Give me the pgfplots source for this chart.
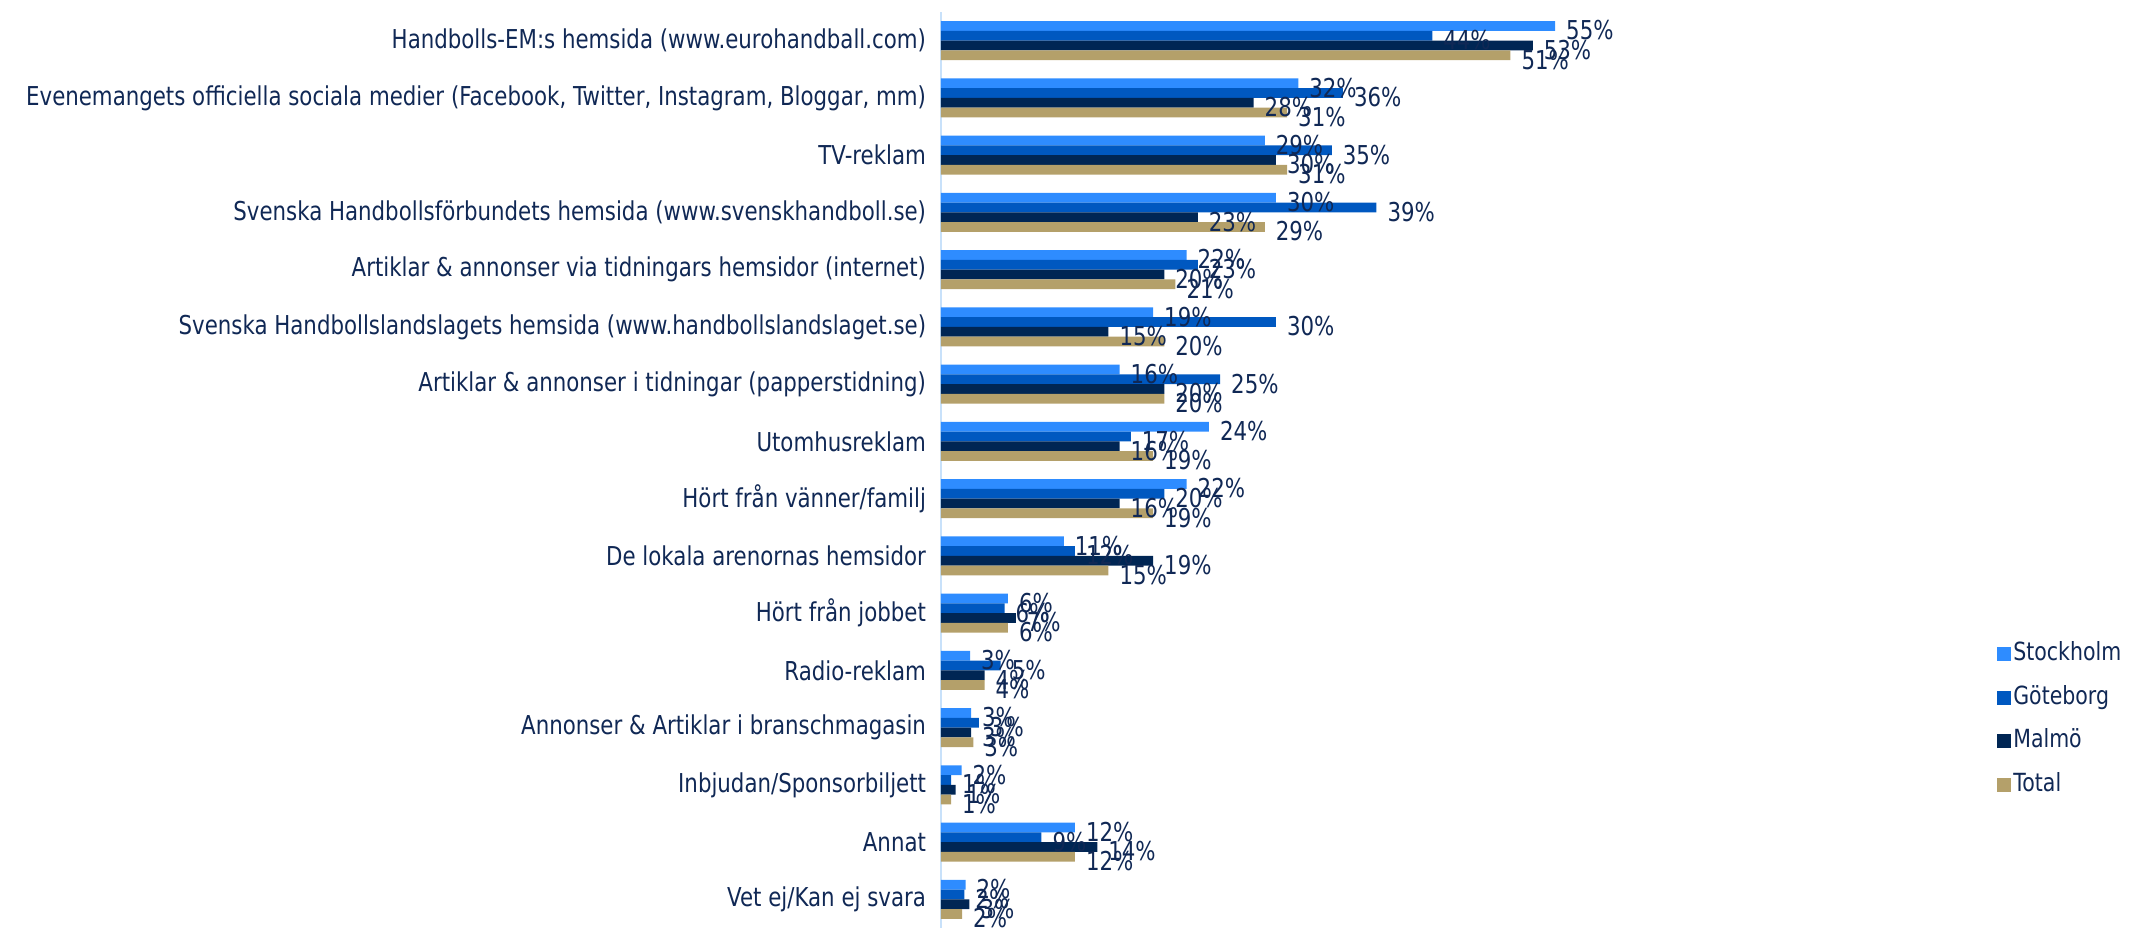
\documentclass[border=0pt]{standalone}
\usepackage{fontspec}
\setmainfont{DejaVu Sans}[FakeStretch=0.82]
\usepackage{pgfplots}
\usepackage{pgfplotstable}
\pgfplotsset{compat=1.18}
\definecolor{cSto}{RGB}{46,140,255}
\definecolor{cGbg}{RGB}{0,88,192}
\definecolor{cMal}{RGB}{0,38,84}
\definecolor{cTot}{RGB}{180,160,106}
\definecolor{cText}{RGB}{16,40,85}
\definecolor{cAxis}{RGB}{200,225,250}

\pgfplotstableread{
idx sto gbg mal tot
0 55 44 53 51
1 32 36 28 31
2 29 35 30 31
3 30 39 23 29
4 22 23 20 21
5 19 30 15 20
6 16 25 20 20
7 24 17 16 19
8 22 20 16 19
9 11 12 19 15
10 6.0 5.7 6.7 6.0
11 2.6 5.35 3.9 3.9
12 2.7 3.4 2.7 2.9
13 1.85 0.9 1.3 0.9
14 12 9 14 12
15 2.2 2.1 2.55 1.9
}\datatab

\begin{document}
\begin{tikzpicture}
\begin{axis}[
  at={(0,0)}, anchor=south west,
  scale only axis, width=335bp, height=458bp,
  xbar=0pt, bar width=0.17,
  xmin=0, xmax=60,
  ymin=-0.5, ymax=15.5, y dir=reverse,
  ytick={0,...,15},
  yticklabels={
    {Handbolls-EM:s hemsida (www.eurohandball.com)},
    {Evenemangets officiella sociala medier (Facebook, Twitter, Instagram, Bloggar, mm)\ },
    {TV-reklam\ },
    {Svenska Handbollsförbundets hemsida (www.svenskhandboll.se)},
    {Artiklar \& annonser via tidningars hemsidor (internet)\ },
    {Svenska Handbollslandslagets hemsida (www.handbollslandslaget.se)},
    {Artiklar \& annonser i tidningar (papperstidning)},
    {Utomhusreklam\ },
    {Hört från vänner/familj\ },
    {De lokala arenornas hemsidor},
    {Hört från jobbet\ },
    {Radio-reklam},
    {Annonser \& Artiklar i branschmagasin\ },
    {Inbjudan/Sponsorbiljett},
    {Annat\ },
    {Vet ej/Kan ej svara}
  },
  axis x line=none, axis y line*=left,
  y axis line style={-, draw=cAxis, line width=1pt},
  major tick length=0pt,
  tick label style={font=\fontsize{13bp}{15bp}\selectfont, text=cText},
  yticklabel style={xshift=-4bp},
  /pgf/number format/assume math mode=true,
  point meta=x,
  nodes near coords={\pgfmathprintnumber[fixed,precision=0]{\pgfplotspointmeta}\%},
  nodes near coords style={font=\fontsize{13bp}{15bp}\selectfont, text=cText, anchor=west, xshift=2bp, yshift=-2.2bp},
  legend style={at={(1.576,0.315)}, anchor=north west, draw=none, fill=none,
    font=\fontsize{12.5bp}{15bp}\selectfont, text=cText, row sep=7.25bp,
    inner sep=0pt,
    nodes={inner sep=1bp, text height=9.5bp, text depth=3bp}},
  legend cell align=left,
  legend image code/.code={\fill[#1] (0bp,-3.5bp) rectangle (7bp,3.5bp);},
]
\addplot[fill=cSto, draw=none] table[x=sto, y=idx]{\datatab};
\addplot[fill=cGbg, draw=none] table[x=gbg, y=idx]{\datatab};
\addplot[fill=cMal, draw=none] table[x=mal, y=idx]{\datatab};
\addplot[fill=cTot, draw=none] table[x=tot, y=idx]{\datatab};
\legend{Stockholm, Göteborg, Malmö, Total}
\end{axis}
\pgfresetboundingbox
\path[use as bounding box] (-470.5bp,-1bp) rectangle (594bp,464bp);
\end{tikzpicture}
\end{document}
